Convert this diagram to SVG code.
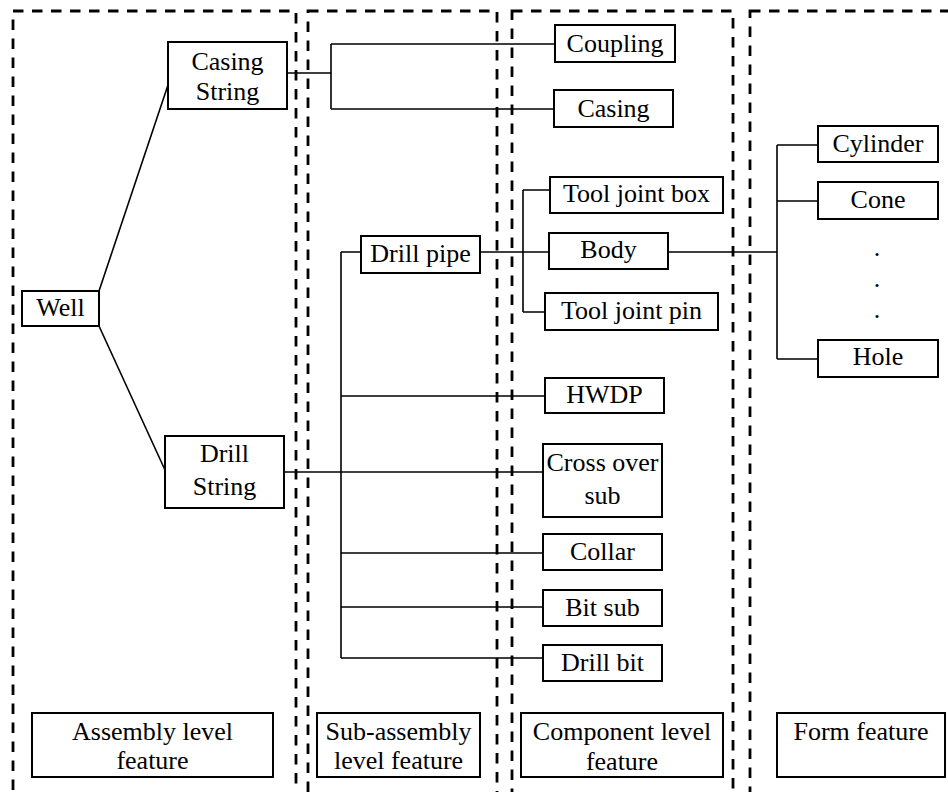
<svg xmlns="http://www.w3.org/2000/svg" width="948" height="792" viewBox="0 0 948 792" font-family="'Liberation Serif', 'DejaVu Serif', serif">
  <style>
    .zone { fill: none; stroke: #000; stroke-width: 2.8; stroke-dasharray: 10.5 8.5; }
    .box { fill: #fff; stroke: #000; stroke-width: 2; }
    .link { fill: none; stroke: #000; stroke-width: 1.6; }
    text { font-family: 'Liberation Serif', 'DejaVu Serif', serif; font-size: 26px; fill: #000; text-anchor: middle; }
  </style>
  <rect width="948" height="792" fill="#fff"/>

  <!-- level zones -->
  <g id="zones">
    <rect class="zone" x="13" y="11" width="283" height="800"/>
    <rect class="zone" x="308" y="11" width="189" height="800"/>
    <rect class="zone" x="512" y="11" width="221" height="800"/>
    <rect class="zone" x="750" y="11" width="220" height="800"/>
  </g>

  <!-- connectors -->
  <g id="connectors" class="link">
    <path d="M99,291 L168,85"/>
    <path d="M99,326 L165,470"/>
    <path d="M287,73 H331 M331,44 V109 M331,44 H555 M331,109 H554"/>
    <path d="M480,252 H549 M523,190 V312 M523,190 H550 M523,312 H545"/>
    <path d="M668,252 H777 M777,145 V359 M777,145 H818 M777,201 H818 M777,359 H818"/>
    <path d="M284,472 H543"/>
    <path d="M341,252 V658 M341,252 H361 M341,396 H545 M341,553 H543 M341,607 H543 M341,658 H543"/>
  </g>

  <!-- assembly level -->
  <g id="well"><rect class="box" x="22" y="291" width="77" height="35"/><text x="60.5" y="316">Well</text></g>
  <g id="casing-string"><rect class="box" x="168" y="42" width="119" height="67"/><text x="227.5" y="70">Casing</text><text x="227.5" y="100">String</text></g>
  <g id="drill-string"><rect class="box" x="165" y="436" width="119" height="72"/><text x="224.5" y="462">Drill</text><text x="224.5" y="495">String</text></g>

  <!-- sub-assembly level -->
  <g id="drill-pipe"><rect class="box" x="361" y="236" width="119" height="37"/><text x="420.5" y="262">Drill pipe</text></g>

  <!-- component level -->
  <g id="coupling"><rect class="box" x="555" y="25" width="120" height="37"/><text x="615" y="52">Coupling</text></g>
  <g id="casing"><rect class="box" x="554" y="90" width="119" height="37"/><text x="613.5" y="117">Casing</text></g>
  <g id="tool-joint-box"><rect class="box" x="550" y="177" width="173" height="36"/><text x="636.5" y="202">Tool joint box</text></g>
  <g id="body"><rect class="box" x="549" y="233" width="119" height="36"/><text x="608.5" y="258">Body</text></g>
  <g id="tool-joint-pin"><rect class="box" x="545" y="293" width="173" height="37"/><text x="631.5" y="319">Tool joint pin</text></g>
  <g id="hwdp"><rect class="box" x="545" y="378" width="119" height="35"/><text x="604.5" y="403">HWDP</text></g>
  <g id="cross-over-sub"><rect class="box" x="543" y="444" width="119" height="73"/><text x="602.5" y="471">Cross over</text><text x="602.5" y="504">sub</text></g>
  <g id="collar"><rect class="box" x="543" y="534" width="119" height="36"/><text x="602.5" y="560">Collar</text></g>
  <g id="bit-sub"><rect class="box" x="543" y="590" width="119" height="36"/><text x="602.5" y="616">Bit sub</text></g>
  <g id="drill-bit"><rect class="box" x="543" y="645" width="119" height="36"/><text x="602.5" y="671">Drill bit</text></g>

  <!-- form features -->
  <g id="cylinder"><rect class="box" x="818" y="126" width="120" height="36"/><text x="878" y="152">Cylinder</text></g>
  <g id="cone"><rect class="box" x="818" y="182" width="120" height="37"/><text x="878" y="208">Cone</text></g>
  <g id="ellipsis"><text x="877" y="256">.</text><text x="877" y="287">.</text><text x="877" y="318">.</text></g>
  <g id="hole"><rect class="box" x="818" y="340" width="120" height="37"/><text x="878" y="365">Hole</text></g>

  <!-- level captions -->
  <g id="assembly-caption"><rect class="box" x="32" y="713" width="241" height="64"/><text x="152.5" y="740">Assembly level</text><text x="152.5" y="769">feature</text></g>
  <g id="sub-assembly-caption"><rect class="box" x="317" y="713" width="163" height="64"/><text x="398.5" y="740">Sub-assembly</text><text x="398.5" y="769">level feature</text></g>
  <g id="component-caption"><rect class="box" x="521" y="713" width="202" height="64"/><text x="622" y="740">Component level</text><text x="622" y="770">feature</text></g>
  <g id="form-caption"><rect class="box" x="777" y="713" width="168" height="64"/><text x="861" y="740">Form feature</text></g>
</svg>
